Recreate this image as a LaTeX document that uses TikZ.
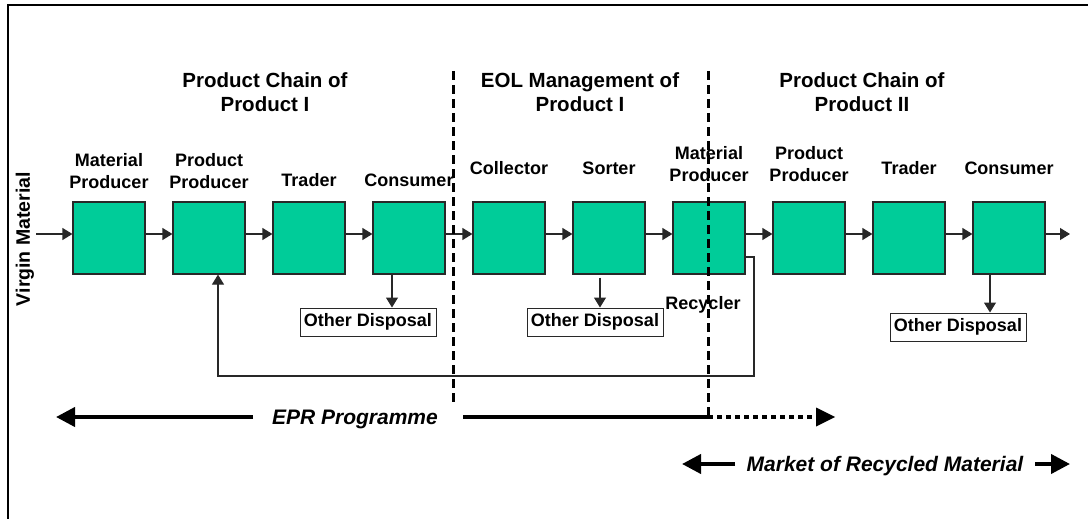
\documentclass[tikz,border=0pt]{standalone}
\usepackage{fontspec}
\setmainfont{Liberation Sans}
\usetikzlibrary{arrows.meta,calc}
\definecolor{stagegreen}{RGB}{0,204,153}
\definecolor{edgegray}{RGB}{40,40,40}
\tikzset{
  stage/.style={draw=edgegray, line width=1.2pt, fill=stagegreen,
    minimum width=72pt, minimum height=72pt, inner sep=0pt},
  flow/.style={line width=1.2pt, draw=edgegray, -{Triangle[length=10pt,width=12pt]}},
  lbl/.style={font=\fontsize{18}{22}\selectfont\bfseries, align=center, anchor=base, inner sep=0pt},
  head/.style={font=\fontsize{20.5}{24}\selectfont\bfseries, align=center, anchor=base, inner sep=0pt},
  disposal/.style={draw=edgegray, line width=1pt, fill=white, minimum width=136pt,
    minimum height=28pt, inner sep=0pt, font=\fontsize{18}{22}\selectfont\bfseries},
  divider/.style={line width=3pt, dash pattern=on 9pt off 5pt},
  bigarrow/.style={line width=4pt, -{Triangle[length=19pt,width=19pt]}},
  scopetext/.style={font=\fontsize{21}{24}\selectfont\bfseries\itshape, anchor=base, inner sep=0pt},
}
\begin{document}
\begin{tikzpicture}[x=1pt,y=-1pt]
\useasboundingbox (0,0) rectangle (1088,519);
% outer frame
\draw[line width=2pt] (1090,5) -- (8,5) -- (8,521);

% section headers (base = baseline of the last line)
\node[head] (h1) at (265,111) {Product Chain of\\Product I};
\node[head] (h2) at (580,111) {EOL Management of\\Product I};
\node[head] (h3) at (862,111) {Product Chain of\\Product II};

% chain stages
\foreach \i in {1,...,10} {
  \node[stage] (b\i) at ({109+100*(\i-1)},238) {};
}

% stage labels
\node[lbl] (l1) at (b1 |- 0,188) {Material\\Producer};
\node[lbl] (l2) at (b2 |- 0,188) {Product\\Producer};
\node[lbl] (l3) at (b3 |- 0,186) {Trader};
\node[lbl] (l4) at (b4 |- 0,186) {Consumer};
\node[lbl] (l5) at (b5 |- 0,174) {Collector};
\node[lbl] (l6) at (b6 |- 0,174) {Sorter};
\node[lbl] (l7) at (b7 |- 0,181) {Material\\Producer};
\node[lbl] (l8) at (b8 |- 0,181) {Product\\Producer};
\node[lbl] (l9) at (b9 |- 0,174) {Trader};
\node[lbl] (l10) at (b10 |- 0,174) {Consumer};
\node[lbl] (rec) at (703,309) {Recycler};

% raw material input
\node[lbl, rotate=90, font=\fontsize{19.5}{22}\selectfont\bfseries] (virgin) at (30,239) {Virgin Material};
\coordinate (vin) at (36,234);
\coordinate (vout) at (1070,234);

% main flow
\draw[flow] (vin) -- ([yshift=4pt]b1.west);
\foreach \a/\b in {1/2,2/3,3/4,4/5,5/6,6/7,7/8,8/9,9/10} {
  \draw[flow] ([yshift=4pt]b\a.east) -- ([yshift=4pt]b\b.west);
}
\draw[flow] ([yshift=4pt]b10.east) -- (vout);

% other disposal
\node[disposal] (od1) at (368,322) {Other Disposal};
\node[disposal] (od2) at (595,322) {Other Disposal};
\node[disposal] (od3) at (958,327) {Other Disposal};
\draw[flow] ([xshift=-17pt]b4.south) -- ([xshift=-17pt]b4.south |- od1.north);
\draw[flow] ([xshift=-9pt,yshift=-3pt]b6.south) -- ([xshift=-9pt]b6.south |- od2.north);
\draw[flow] ([xshift=-19pt]b10.south) -- ([xshift=-19pt]b10.south |- od3.north);

% recycled material loop
\coordinate (loopR) at (754,376);
\coordinate (loopL) at (218,376);
\draw[flow] ([yshift=-19pt]b7.east) -| (loopR) -- (loopL) -- (loopL |- b2.south);

% section dividers
\coordinate (d1t) at (453,71);
\coordinate (d1b) at (453,405);
\coordinate (d2t) at (708,71);
\coordinate (d2b) at (708,417);
\draw[divider] (d1t) -- (d1b);
\draw[divider] (d2t) -- (d2b);

% EPR programme scope
\node[scopetext] (epr) at (355,424) {EPR Programme};
\coordinate (eprL) at (56,417);
\coordinate (eprA) at (253,417);
\coordinate (eprB) at (463,417);
\coordinate (eprD) at (816,417);
\coordinate (eprR) at (835,417);
\draw[bigarrow] (eprA) -- (eprL);
\draw[line width=4pt] (eprB) -- (d2b);
\draw[line width=4pt, dash pattern=on 5pt off 4pt] (d2b) -- (eprD);
\fill ([yshift=9.5pt]eprD) -- (eprR) -- ([yshift=-9.5pt]eprD) -- cycle;

% market of recycled material
\node[scopetext] (mkt) at (885,471) {Market of Recycled Material};
\coordinate (mL) at (682,464);
\coordinate (mA) at (735,464);
\coordinate (mB) at (1035,464);
\coordinate (mR) at (1070,464);
\draw[bigarrow] (mA) -- (mL);
\draw[bigarrow] (mB) -- (mR);
\end{tikzpicture}
\end{document}
